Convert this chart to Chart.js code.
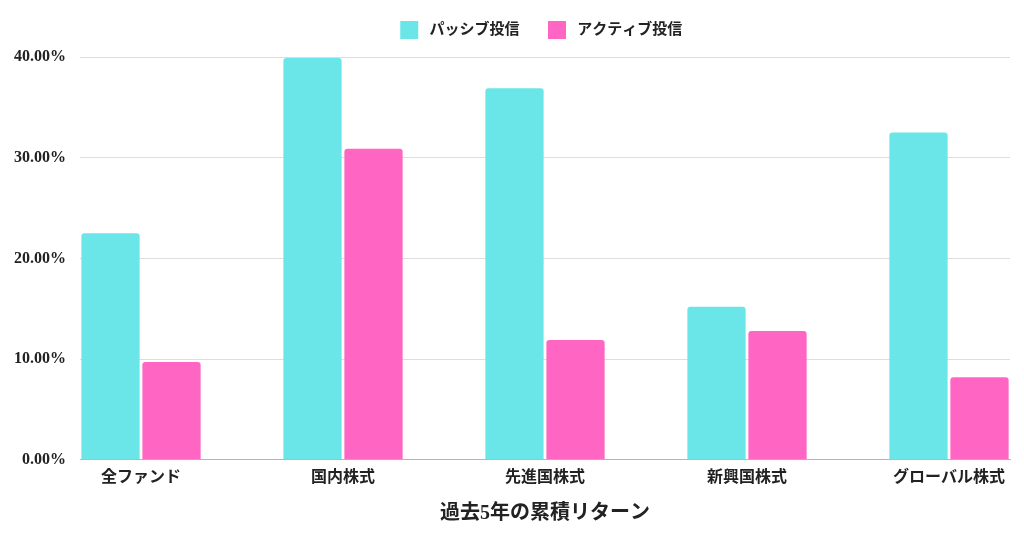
<!DOCTYPE html>
<html lang="ja">
<head>
<meta charset="utf-8">
<title>過去5年の累積リターン</title>
<script src="https://cdn.jsdelivr.net/npm/chart.js@4.4.1/dist/chart.umd.min.js"></script>
<style>
  html, body { margin: 0; padding: 0; background: #fff; }
  #wrap { width: 1024px; height: 538px; }
</style>
</head>
<body>
<div id="wrap"><canvas id="chart"></canvas></div>
<script>
// --- Data
const categories = ['全ファンド', '国内株式', '先進国株式', '新興国株式', 'グローバル株式'];
const passiveValues = [22.5, 39.9, 36.9, 15.2, 32.5];
const activeValues = [9.7, 30.9, 11.9, 12.8, 8.2];
const seriesNames = ['パッシブ投信', 'アクティブ投信'];
const yTicks = [0, 10, 20, 30, 40];

const FONT = '"Liberation Serif", "Noto Sans CJK JP", serif';

// bars sit on a linear x scale so the outer groups touch the plot edges
const toPoints = vals => vals.map((v, i) => ({ x: i, y: v }));

// a bit more room under the legend
const legendGap = {
  id: 'legendGap',
  afterInit(chart) {
    const fit = chart.legend.fit;
    chart.legend.fit = function () {
      fit.call(this);
      this.height += 8;
    };
  }
};

new Chart(document.getElementById('chart'), {
  type: 'bar',
  data: {
    datasets: [
      {
        label: ' ' + seriesNames[0] + '  ',
        data: toPoints(passiveValues),
        backgroundColor: '#6ae6e8',
        borderRadius: 3,
        borderSkipped: 'bottom'
      },
      {
        label: ' ' + seriesNames[1] + '  ',
        data: toPoints(activeValues),
        backgroundColor: '#ff66c4',
        borderRadius: 3,
        borderSkipped: 'bottom'
      }
    ]
  },
  plugins: [legendGap],
  options: {
    responsive: true,
    maintainAspectRatio: false,
    animation: false,
    categoryPercentage: 0.604,
    barPercentage: 0.955,
    layout: { padding: { left: 13, right: 14, top: 0, bottom: 12 } },
    plugins: {
      legend: {
        position: 'top',
        fullSize: false,
        labels: {
          boxWidth: 18,
          boxHeight: 18,
          padding: 21,
          color: '#222',
          font: { family: FONT, size: 15, weight: 'bold' }
        }
      },
      tooltip: { enabled: false }
    },
    scales: {
      x: {
        type: 'linear',
        offset: false,
        min: -0.302,
        max: 4.302,
        grid: { display: false, drawTicks: false },
        border: { display: true, color: '#b5b5b5', width: 1 },
        ticks: {
          stepSize: 1,
          includeBounds: false,
          padding: 8,
          color: '#222',
          font: { family: FONT, size: 16, weight: 'bold' },
          callback: v => categories[v] ?? ''
        },
        title: {
          display: true,
          text: '過去5年の累積リターン',
          color: '#222',
          padding: { top: 7, bottom: 0 },
          font: { family: FONT, size: 20, weight: 'bold' }
        }
      },
      y: {
        min: yTicks[0],
        max: yTicks[yTicks.length - 1],
        grid: { color: '#dddddd', drawTicks: false },
        border: { display: false },
        afterBuildTicks: axis => { axis.ticks = yTicks.map(v => ({ value: v })); },
        afterFit: axis => { axis.width = 67; },
        ticks: {
          padding: 14,
          color: '#222',
          font: { family: FONT, size: 16, weight: 'bold' },
          callback: v => v.toFixed(2) + '%'
        }
      }
    }
  }
});
</script>
</body>
</html>
